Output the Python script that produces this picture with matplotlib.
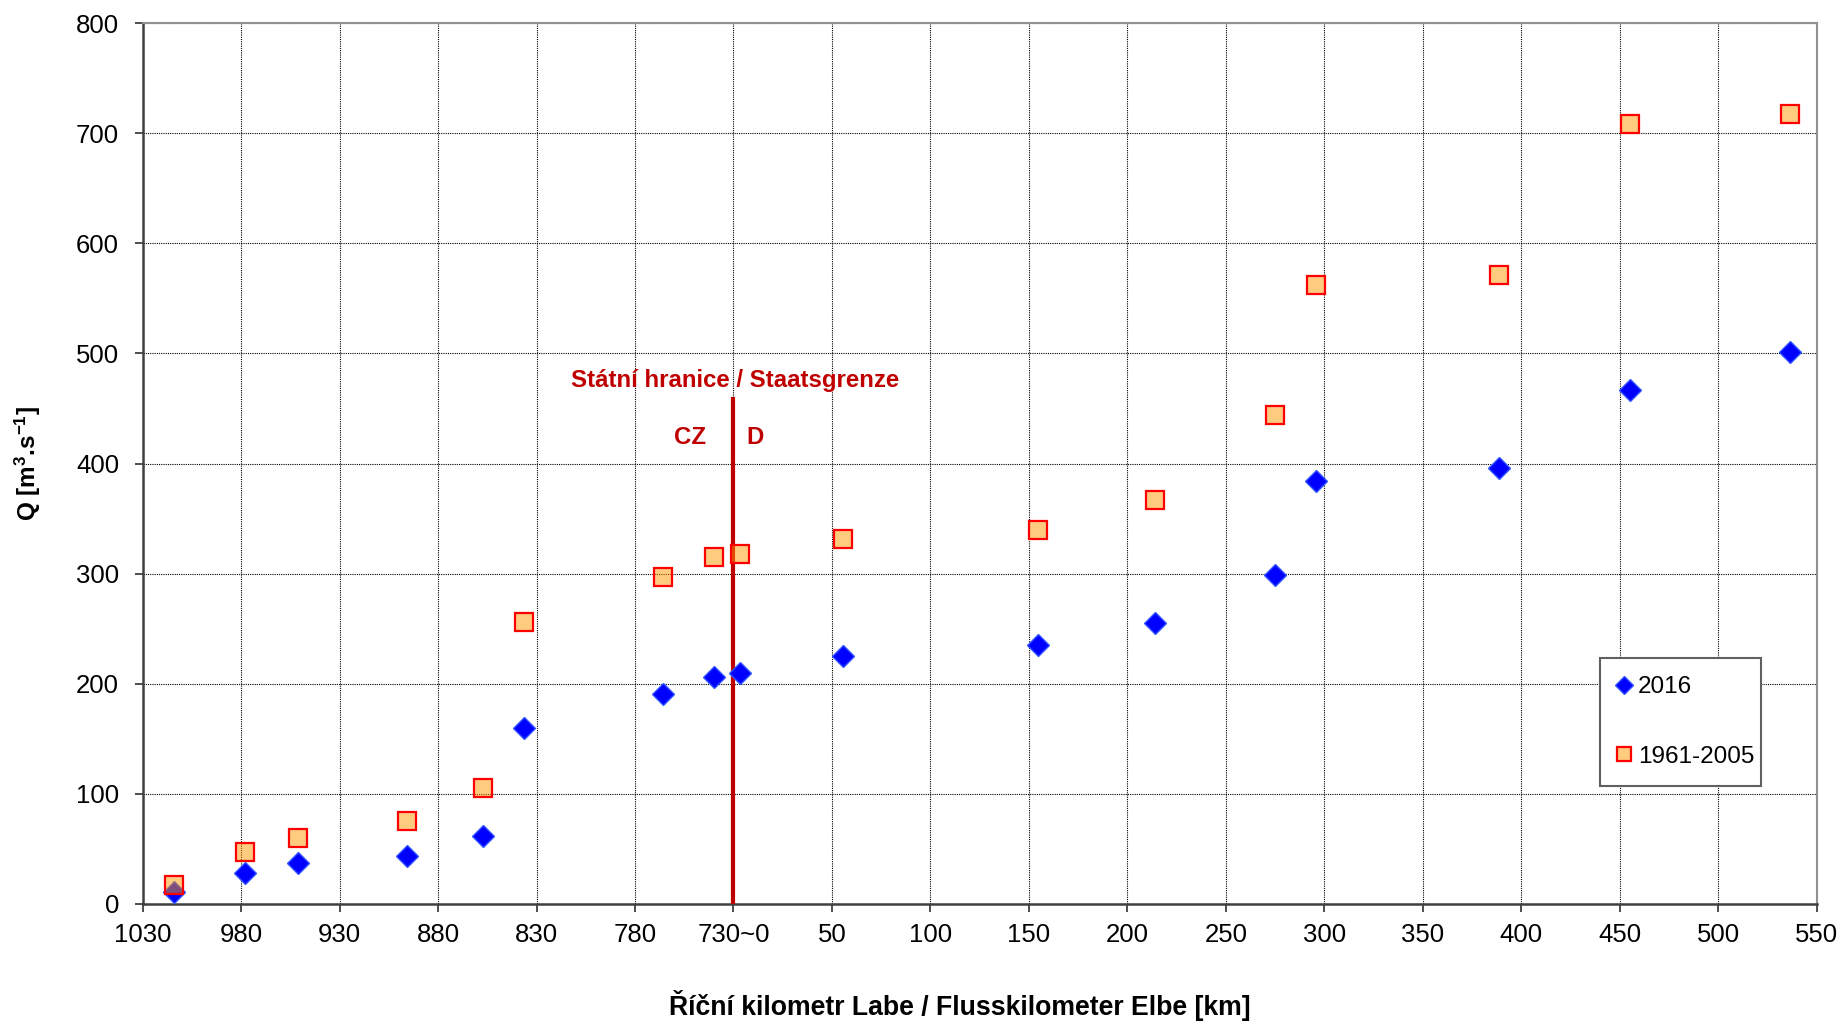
import matplotlib
matplotlib.use("Agg")
import matplotlib.pyplot as plt
import numpy as np

plt.rcParams['font.family'] = ['Liberation Sans', 'DejaVu Sans']
plt.rcParams['mathtext.fontset'] = 'custom'
plt.rcParams['mathtext.rm'] = 'Liberation Sans:bold'
plt.rcParams['mathtext.bf'] = 'Liberation Sans:bold'
plt.rcParams['mathtext.it'] = 'Liberation Sans:bold'

# river km (CZ chainage decreasing toward the border, DE chainage from border)
country = ["CZ", "CZ", "CZ", "CZ", "CZ", "CZ", "CZ", "CZ",
           "DE", "DE", "DE", "DE", "DE", "DE", "DE", "DE", "DE"]
river_km = [1014, 978, 951, 896, 857, 836.5, 766, 740,
            3.5, 55.5, 154.5, 214.2, 274.7, 295.5, 388.5, 455, 536.3]
q_2016 = [11, 28, 37, 44, 62, 160, 191, 206, 210, 225, 235, 255, 299, 384, 396, 467, 501]
q_1961_2005 = [17, 47, 60, 75, 105, 256, 297, 315, 318, 331, 340, 367, 444, 562, 571, 708, 717]

tick_labels = ["1030", "980", "930", "880", "830", "780", "730~0", "50", "100", "150",
               "200", "250", "300", "350", "400", "450", "500", "550"]
border_km = 730.0
cz_start = 1030.0


def to_pos(km, c):
    # combined axis: CZ part runs 1030 -> 730, DE part continues 0 -> 550
    return (cz_start - km) if c == "CZ" else (cz_start - border_km) + km


x = np.array([to_pos(k, c) for k, c in zip(river_km, country)])
border_pos = cz_start - border_km

fig = plt.figure(figsize=(18.45, 10.24), dpi=100)
ax = fig.add_axes([0.0773, 0.1172, 0.9074, 0.8603])

ax.set_xlim(0, 850)
ax.set_ylim(0, 800)
ax.set_xticks(np.arange(0, 851, 50))
ax.set_xticklabels(tick_labels)
ax.set_yticks(np.arange(0, 801, 100))

ax.grid(True, color='black', linestyle=(0, (1, 1)), linewidth=0.8)
ax.set_axisbelow(True)

ax.tick_params(axis='both', direction='out', length=6, width=1.3, color='#404040',
               labelsize=18.5)
ax.tick_params(axis='x', pad=8)
ax.tick_params(axis='y', pad=11)

for s in ['left', 'bottom']:
    ax.spines[s].set_color('#404040')
    ax.spines[s].set_linewidth(1.8)
for s in ['top', 'right']:
    ax.spines[s].set_color('#909090')
    ax.spines[s].set_linewidth(1.5)

# border line
ax.plot([border_pos, border_pos], [0, 459], color='#C00000', linewidth=3, zorder=3)
ax.text(border_pos + 1, 475, "Státní hranice / Staatsgrenze", color='#C00000',
        fontsize=17.3, fontweight='bold', ha='center', va='center')
ax.text(border_pos - 22, 424, "CZ", color='#C00000', fontsize=17.3, fontweight='bold',
        ha='center', va='center')
ax.text(border_pos + 11, 424, "D", color='#C00000', fontsize=17.3, fontweight='bold',
        ha='center', va='center')

ax.plot(x, q_2016, linestyle='none', marker='D', markersize=11, color='#0000FF',
        markeredgecolor='#3355FF', markeredgewidth=1.0, label='2016', zorder=4)
ax.plot(x, q_1961_2005, linestyle='none', marker='s', markersize=12.5,
        markerfacecolor=(1.0, 0.6, 0.0, 0.5), markeredgecolor='#FF0000',
        markeredgewidth=1.6, label='1961-2005', zorder=5)

leg = ax.legend(loc='lower left', bbox_to_anchor=(0.8706, 0.134, 0.0962, 0.146),
                mode='expand', fontsize=17.5, frameon=True, fancybox=False,
                handlelength=0.5, handletextpad=0.3, labelspacing=1.95,
                borderpad=0.75, borderaxespad=0, markerscale=0.85)
leg.get_frame().set_edgecolor('#606060')
leg.get_frame().set_linewidth(1.5)
leg.get_frame().set_alpha(1)

ax.set_ylabel(r"Q [m$^{3}$.s$^{-1}$]", fontsize=17.5, fontweight='bold', va='center')
ax.yaxis.set_label_coords(-0.0685, 0.5)
ax.set_xlabel("Říční kilometr Labe / Flusskilometer Elbe [km]", fontsize=19.2,
              fontweight='bold', va='center')
ax.xaxis.set_label_coords((960 - 142.7) / 1674, (904 - 1006) / 881)

fig.savefig("out.png", dpi=100)
